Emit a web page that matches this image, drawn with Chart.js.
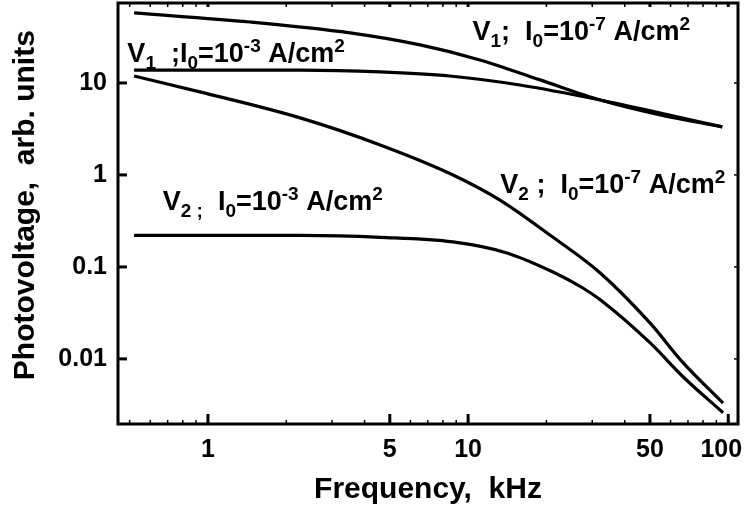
<!DOCTYPE html>
<html>
<head>
<meta charset="utf-8">
<script src="https://cdn.jsdelivr.net/npm/chart.js@4/dist/chart.umd.min.js"></script>
<style>
  html, body { margin: 0; padding: 0; background: #fff; }
  canvas { display: block; }
</style>
</head>
<body>
<canvas id="pvChart" width="746" height="512"></canvas>
<script>
// Frequencies (kHz) and photovoltage (arb. units)
const freqV1Low = [0.52, 1.45, 3.52, 6.54, 11.1, 18.9, 32.2, 54.8, 94.8];
const v1Low     = [57.7, 46, 35, 25.9, 17.8, 10.8, 6.53, 4.49, 3.33];      // V1, I0=1e-7

const freqV1High = [0.52, 2.26, 4.59, 8.5, 15.8, 32.2, 54.8, 94.8];
const v1High     = [13.8, 13.8, 13.2, 11.9, 9.5, 6.53, 4.72, 3.33];        // V1, I0=1e-3

const freqV2Low = [0.52, 0.93, 2.26, 4.59, 8.75, 13.3, 21.2, 32.2, 50, 67, 95.5];
const v2Low     = [11.9, 8.0, 4.17, 2.12, 1.0, 0.53, 0.21, 0.086, 0.0246, 0.0091, 0.0033]; // V2, I0=1e-7

const freqV2High = [0.52, 2.26, 4.59, 8.75, 14.1, 21.2, 27.6, 32.2, 50, 67, 95.5];
const v2High     = [0.22, 0.22, 0.21, 0.187, 0.142, 0.088, 0.059, 0.044, 0.015, 0.0064, 0.0026]; // V2, I0=1e-3

// Axis ticks
const xTickValues = [0.5, 0.6, 0.7, 0.8, 0.9, 1, 2, 3, 4, 5, 6, 7, 8, 9, 10, 20, 30, 40, 50, 60, 70, 80, 90, 100];
const xTickLabels = [1, 5, 10, 50, 100];
const yTickLabels = [0.01, 0.1, 1, 10];

const FONT = "'Liberation Sans', Arial, Helvetica, sans-serif";

// curve labels: [text, 'n' | 'sub' | 'sup']
const curveLabels = [
  { x: 10.4, y: 29.3, parts: [['V', 'n'], ['1', 'sub'], [';  I', 'n'], ['0', 'sub'], ['=10', 'n'], ['-7', 'sup'], [' A/cm', 'n'], ['2', 'sup']] },
  { x: 0.49, y: 16.9, parts: [['V', 'n'], ['1', 'sub'], ['  ;I', 'n'], ['0', 'sub'], ['=10', 'n'], ['-3', 'sup'], [' A/cm', 'n'], ['2', 'sup']] },
  { x: 13.3, y: 0.64, parts: [['V', 'n'], ['2', 'sub'], [' ;  I', 'n'], ['0', 'sub'], ['=10', 'n'], ['-7', 'sup'], [' A/cm', 'n'], ['2', 'sup']] },
  { x: 0.67, y: 0.417, parts: [['V', 'n'], ['2 ;', 'sub'], ['  I', 'n'], ['0', 'sub'], ['=10', 'n'], ['-3', 'sup'], [' A/cm', 'n'], ['2', 'sup']] }
];

function toPoints(xs, ys) {
  return xs.map((x, i) => ({ x: x, y: ys[i] }));
}

function lineSet(xs, ys) {
  return {
    data: toPoints(xs, ys),
    borderColor: '#000',
    borderWidth: 3.2,
    pointRadius: 0,
    fill: false,
    cubicInterpolationMode: 'monotone'
  };
}

function drawRich(ctx, parts, x, y) {
  let cx = x;
  ctx.textBaseline = 'alphabetic';
  ctx.textAlign = 'left';
  parts.forEach(([txt, mode]) => {
    let size = 27, dy = 0;
    if (mode === 'sub') { size = 19; dy = 7; }
    if (mode === 'sup') { size = 19; dy = -10; }
    ctx.font = 'bold ' + size + 'px ' + FONT;
    ctx.fillText(txt, cx, y + dy);
    cx += ctx.measureText(txt).width;
  });
}

const framePlugin = {
  id: 'frame',
  afterDraw(chart) {
    const { ctx, chartArea: a, scales } = chart;
    ctx.save();
    ctx.strokeStyle = '#000';
    ctx.lineWidth = 3;
    ctx.strokeRect(a.left, a.top, a.right - a.left, a.bottom - a.top);

    // x ticks, pointing inward
    xTickValues.forEach(v => {
      const px = scales.x.getPixelForValue(v);
      const major = xTickLabels.includes(v);
      ctx.lineWidth = major ? 3 : 1.5;
      ctx.beginPath();
      ctx.moveTo(px, a.bottom);
      ctx.lineTo(px, a.bottom - (major ? 10 : 4));
      ctx.moveTo(px, a.top);
      ctx.lineTo(px, a.top + 4);
      ctx.stroke();
    });
    // y ticks
    yTickLabels.forEach(v => {
      const py = scales.y.getPixelForValue(v);
      ctx.lineWidth = 3;
      ctx.beginPath();
      ctx.moveTo(a.left, py);
      ctx.lineTo(a.left + 9, py);
      ctx.stroke();
      ctx.lineWidth = 1.5;
      ctx.beginPath();
      ctx.moveTo(a.right, py);
      ctx.lineTo(a.right - 4, py);
      ctx.stroke();
    });

    ctx.fillStyle = '#000';
    curveLabels.forEach(l => {
      drawRich(ctx, l.parts, scales.x.getPixelForValue(l.x), scales.y.getPixelForValue(l.y));
    });
    ctx.restore();
  }
};

new Chart(document.getElementById('pvChart'), {
  type: 'line',
  data: {
    datasets: [
      lineSet(freqV1Low, v1Low),
      lineSet(freqV1High, v1High),
      lineSet(freqV2Low, v2Low),
      lineSet(freqV2High, v2High)
    ]
  },
  options: {
    responsive: false,
    animation: false,
    layout: { padding: { top: 3, right: 8, left: 0, bottom: 0 } },
    plugins: { legend: { display: false }, tooltip: { enabled: false } },
    scales: {
      x: {
        type: 'logarithmic',
        min: 0.451,
        max: 109,
        border: { display: false },
        grid: { display: false, drawTicks: false },
        afterBuildTicks: s => { s.ticks = xTickValues.map(v => ({ value: v })); },
        afterFit: s => { s.height = 88; s.paddingLeft = 0; s.paddingRight = 0; },
        ticks: {
          autoSkip: false,
          maxRotation: 0,
          padding: 11,
          color: '#000',
          font: { family: FONT, size: 25, weight: 'bold' },
          // last label sits a little left of its tick in the original
          callback: v => !xTickLabels.includes(v) ? '' : (v === 100 ? '100\u00a0\u00a0' : String(v))
        },
        title: {
          display: true,
          text: 'Frequency,  kHz',
          color: '#000',
          font: { family: FONT, size: 30, weight: 'bold' },
          padding: { top: 0, bottom: 4 }
        }
      },
      y: {
        type: 'logarithmic',
        min: 0.00196,
        max: 74,
        border: { display: false },
        grid: { display: false, drawTicks: false },
        afterBuildTicks: s => { s.ticks = yTickLabels.map(v => ({ value: v })); },
        afterFit: s => { s.width = 118; s.paddingTop = 0; s.paddingBottom = 0; },
        ticks: {
          padding: 11,
          color: '#000',
          font: { family: FONT, size: 25, weight: 'bold' },
          callback: v => String(v)
        },
        title: {
          display: true,
          text: '\u00a0\u00a0Photovoltage,  arb. units',
          color: '#000',
          font: { family: FONT, size: 30, weight: 'bold' },
          padding: { top: 8, bottom: 0 }
        }
      }
    }
  },
  plugins: [framePlugin]
});
</script>
</body>
</html>
